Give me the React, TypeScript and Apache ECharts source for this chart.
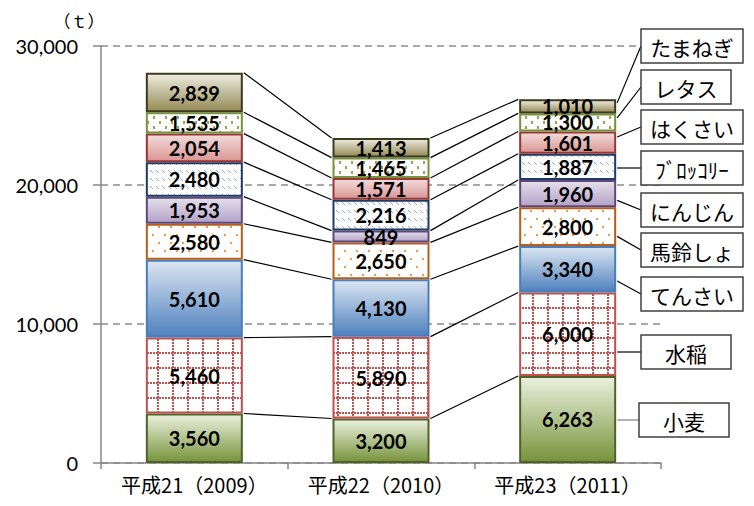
import React, { useEffect, useRef } from "react";
import * as echarts from "echarts";

const CATEGORIES = ["平成21（2009）", "平成22（2010）", "平成23（2011）"];
const SERIES_NAMES = ["小麦", "水稲", "てんさい", "馬鈴しょ", "にんじん", "ﾌﾞﾛｯｺﾘｰ", "はくさい", "レタス", "たまねぎ"];
const WHEAT = [3560, 3200, 6263];
const RICE = [5460, 5890, 6000];
const SUGAR_BEET = [5610, 4130, 3340];
const POTATO = [2580, 2650, 2800];
const CARROT = [1953, 849, 1960];
const BROCCOLI = [2480, 2216, 1887];
const CHINESE_CABBAGE = [2054, 1571, 1601];
const LETTUCE = [1535, 1465, 1300];
const ONION = [2839, 1413, 1010];
const VALUES = [WHEAT, RICE, SUGAR_BEET, POTATO, CARROT, BROCCOLI, CHINESE_CABBAGE, LETTUCE, ONION];
const Y_TICKS = [0, 10000, 20000, 30000];
const UNIT = "（ｔ）";

// callout layout (pixels)
const BOX_CY = [420, 352, 294, 250, 210, 168, 127, 87, 46];
const BOX_W = [90, 90, 102, 102, 102, 102, 102, 90, 102];
const BOX_X = [639, 641, 641, 641, 641, 641, 641, 641, 641];
const BOX_H = 34;
const BAR_W = 97;

const fmt = (v: number) => v.toLocaleString("en-US");

function makePattern(w: number, h: number, draw: (ctx: CanvasRenderingContext2D) => void) {
  const c = document.createElement("canvas");
  c.width = w;
  c.height = h;
  const ctx = c.getContext("2d")!;
  ctx.fillStyle = "#ffffff";
  ctx.fillRect(0, 0, w, h);
  draw(ctx);
  return { image: c, repeat: "repeat" } as any;
}

function grad(top: string, bottom: string) {
  return new echarts.graphic.LinearGradient(0, 0, 0, 1, [
    { offset: 0, color: top },
    { offset: 1, color: bottom },
  ]);
}

export default function App() {
  const ref = useRef<HTMLDivElement>(null);
  useEffect(() => {
    if (!ref.current) return;
    const chart = echarts.init(ref.current, null, { renderer: "svg" });

    const ricePat = makePattern(15, 15, (ctx) => {
      ctx.fillStyle = "#c0504d";
      for (let y = 0; y < 15; y += 3) ctx.fillRect(7, y, 2, 2);
      for (let x = 0; x < 15; x += 3) ctx.fillRect(x, 7, 2, 2);
    });
    const potatoPat = makePattern(12, 16, (ctx) => {
      ctx.fillStyle = "#f79646";
      ctx.fillRect(2, 2, 2, 2);
      ctx.fillRect(8, 10, 2, 2);
    });
    const broccoliPat = makePattern(6, 8, (ctx) => {
      ctx.fillStyle = "#8db3e2";
      ctx.fillRect(0, 2, 1, 1);
      ctx.fillRect(1, 3, 1, 1);
      ctx.fillRect(2, 4, 1, 1);
    });
    const lettucePat = makePattern(12, 10, (ctx) => {
      ctx.fillStyle = "#8faa52";
      ctx.fillRect(3, 1, 2, 3);
      ctx.fillRect(9, 6, 2, 3);
    });

    const styles = [
      { color: grad("#ebf1de", "#77933c"), border: "#4f6228" },
      { color: ricePat, border: "#c0504d" },
      { color: grad("#dce6f2", "#4f81bd"), border: "#4a7ebb" },
      { color: potatoPat, border: "#b65f1a" },
      { color: grad("#e6e0ec", "#b3a2c7"), border: "#5f497a" },
      { color: broccoliPat, border: "#1f3b64" },
      { color: grad("#f2dcdb", "#d99694"), border: "#953735" },
      { color: lettucePat, border: "#77933c" },
      { color: grad("#eeece1", "#948a54"), border: "#3d3a20" },
    ];

    const cum = (s: number, c: number) => {
      let t = 0;
      for (let i = 0; i <= s; i++) t += VALUES[i][c];
      return t;
    };

    const barSeries = VALUES.map((vals, i) => ({
      name: SERIES_NAMES[i],
      type: "bar",
      stack: "total",
      barWidth: BAR_W,
      data: vals,
      itemStyle: { color: styles[i].color, borderColor: styles[i].border, borderWidth: 2 },
      label: {
        show: true,
        position: "inside",
        formatter: (p: any) => fmt(p.value),
        fontFamily: "Lato",
        fontWeight: "bold",
        fontSize: 20,
        color: "#000",
      },
      emphasis: { disabled: true },
      z: 2,
    }));

    const connectorSeries = {
      type: "custom",
      silent: true,
      z: 3,
      data: CATEGORIES.map((_, i) => [i, 0]),
      encode: { x: 0, y: 1 },
      renderItem: (params: any, api: any) => {
        const idx = params.dataIndex;
        const children: any[] = [];
        const half = BAR_W / 2 + 1;
        if (idx < CATEGORIES.length - 1) {
          for (let s = 0; s < VALUES.length; s++) {
            const p1 = api.coord([idx, cum(s, idx)]);
            const p2 = api.coord([idx + 1, cum(s, idx + 1)]);
            children.push({
              type: "line",
              shape: { x1: p1[0] + half, y1: p1[1], x2: p2[0] - half, y2: p2[1] },
              style: { stroke: "#000", lineWidth: 1.2 },
            });
          }
        } else {
          for (let s = 0; s < VALUES.length; s++) {
            const top = api.coord([idx, cum(s, idx)]);
            const bot = api.coord([idx, cum(s, idx) - VALUES[s][idx]]);
            const margin = (bot[1] - top[1]) * 0.25;
            const y = Math.min(Math.max(BOX_CY[s], top[1] + margin), bot[1] - margin);
            children.push({
              type: "line",
              shape: { x1: top[0] + half, y1: y, x2: BOX_X[s], y2: BOX_CY[s] },
              style: { stroke: s === 0 ? "#7f7f7f" : "#000", lineWidth: 1.2 },
            });
          }
        }
        return { type: "group", children };
      },
    };

    const graphics: any[] = [
      { type: "rect", shape: { x: 213, y: 0, width: 370, height: 2.5 }, style: { fill: "#fad7b5" } },
      {
        type: "text",
        x: 79,
        y: 20,
        style: {
          text: UNIT,
          align: "center",
          verticalAlign: "middle",
          fontSize: 17,
          fontFamily: "Noto Sans CJK JP",
          fill: "#000",
        },
      },
    ];
    SERIES_NAMES.forEach((name, s) => {
      graphics.push({
        type: "rect",
        z: 10,
        shape: { x: BOX_X[s], y: BOX_CY[s] - BOX_H / 2, width: BOX_W[s], height: BOX_H },
        style: { fill: "#fff", stroke: "#404040", lineWidth: 1.5 },
      });
      graphics.push({
        type: "text",
        z: 11,
        x: BOX_X[s] + BOX_W[s] / 2,
        y: BOX_CY[s] + 1,
        style: {
          text: name,
          align: "center",
          verticalAlign: "middle",
          fontSize: 21,
          fontFamily: "Noto Sans CJK JP",
          fill: "#000",
        },
      });
    });

    chart.setOption({
      animation: false,
      grid: { left: 101, right: 93, top: 46, bottom: 43 },
      xAxis: {
        type: "category",
        data: CATEGORIES,
        axisLine: { lineStyle: { color: "#868686", width: 1.5 } },
        axisTick: { show: true, length: 6, lineStyle: { color: "#868686", width: 1.5 } },
        axisLabel: { interval: 0, fontFamily: "Noto Sans CJK JP", fontSize: 20, color: "#000", margin: 11 },
      },
      yAxis: {
        type: "value",
        min: Y_TICKS[0],
        max: Y_TICKS[Y_TICKS.length - 1],
        interval: Y_TICKS[1] - Y_TICKS[0],
        axisLine: { show: true, lineStyle: { color: "#868686", width: 1.5 } },
        axisTick: { show: true, length: 8, lineStyle: { color: "#868686", width: 1.5 } },
        axisLabel: { formatter: (v: number) => fmt(v), fontFamily: "Lato", fontSize: 20, color: "#000", margin: 23 },
        splitLine: { show: true, lineStyle: { color: "#8c8c8c", width: 1.5, type: [7, 5] } },
      },
      series: [...barSeries, connectorSeries],
      graphic: graphics,
    } as any);

    return () => chart.dispose();
  }, []);

  return <div ref={ref} style={{ width: 754, height: 506, margin: -8 }} />;
}
